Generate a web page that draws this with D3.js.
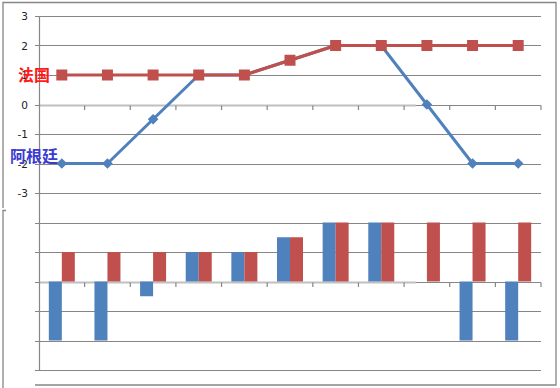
<!DOCTYPE html>
<html><head><meta charset="utf-8">
<script src="https://cdn.jsdelivr.net/npm/d3@7"></script>
<style>html,body{margin:0;padding:0;background:#fff;}svg{display:block;}</style>
</head><body>
<svg id="c" width="560" height="388"></svg>
<script>
const categories = ["1","2","3","4","5","6","7","8","9","10","11"];
const argentina = [-2, -2, -0.5, 1, 1, 1.5, 2, 2, 0, -2, -2];
const france = [1, 1, 1, 1, 1, 1.5, 2, 2, 2, 2, 2];
const topTicks = [3, 2, 1, 0, -1, -2, -3];
const bottomGrid = [2, 1, 0, -1, -2, -3];
const seriesNames = ["阿根廷", "法国"];

const svg = d3.select("#c");
const grid = "#868686";
const blue = "#4f81bd", red = "#c0504d";

const x = d3.scaleBand().domain(categories).range([39, 541]);
const yTop = d3.scaleLinear().domain([-3, 3]).range([193, 16]);
const yBot = d3.scaleLinear().domain([-3, 3]).range([370, 193]);

// outer frame pieces
const frame = svg.append("g").attr("stroke", grid).attr("fill", "none").attr("stroke-width", 1.3);
frame.append("path").attr("d", "M3,208V2.5H556V385H35");
frame.append("path").attr("d", "M6,210.5H3V388");

// gridlines
svg.append("g").selectAll("line").data(topTicks).join("line")
  .attr("x1", 35).attr("x2", 541)
  .attr("y1", d => Math.round(yTop(d)) + 0.5).attr("y2", d => Math.round(yTop(d)) + 0.5)
  .attr("stroke", grid).attr("stroke-width", 1.2);
svg.append("g").selectAll("line").data(bottomGrid).join("line")
  .attr("x1", 35).attr("x2", 541)
  .attr("y1", d => Math.round(yBot(d)) + 0.5).attr("y2", d => Math.round(yBot(d)) + 0.5)
  .attr("stroke", grid).attr("stroke-width", 1.2);

// category axis lines (light) and ticks
[[yTop, 0], [yBot, 0]].forEach(([s, v]) => {
  const yy = Math.round(s(v)) + 0.5;
  svg.append("line").attr("x1", 39).attr("x2", 416).attr("y1", yy).attr("y2", yy)
    .attr("stroke", "#c0c0c0").attr("stroke-width", 2);
  svg.append("g").selectAll("line").data(categories).join("line")
    .attr("x1", d => x(d) + x.bandwidth()).attr("x2", d => x(d) + x.bandwidth())
    .attr("y1", yy).attr("y2", yy + 4.5)
    .attr("stroke", grid).attr("stroke-width", 1.2);
});

// y axis line
svg.append("line").attr("x1", 39.5).attr("x2", 39.5).attr("y1", 16).attr("y2", 370.5)
  .attr("stroke", grid).attr("stroke-width", 1.2);

// tick labels
svg.append("g").selectAll("text").data(topTicks).join("text")
  .attr("x", 28).attr("y", d => yTop(d) + 4)
  .attr("text-anchor", "end")
  .attr("font-family", "DejaVu Sans, sans-serif").attr("font-size", 10.5).attr("fill", "#222")
  .text(d => d);

// bars (bottom panel)
const bw = 13;
const xc = d => x(d) + x.bandwidth() / 2;
const barG = svg.append("g");
barG.selectAll("rect.a").data(categories).join("rect").attr("class", "a")
  .attr("x", d => xc(d) - bw)
  .attr("width", bw)
  .attr("y", (d, i) => Math.min(yBot(argentina[i]), yBot(0)))
  .attr("height", (d, i) => Math.abs(yBot(argentina[i]) - yBot(0)))
  .attr("fill", blue);
barG.selectAll("rect.f").data(categories).join("rect").attr("class", "f")
  .attr("x", d => xc(d))
  .attr("width", bw)
  .attr("y", (d, i) => Math.min(yBot(france[i]), yBot(0)))
  .attr("height", (d, i) => Math.abs(yBot(france[i]) - yBot(0)))
  .attr("fill", red);

// lines (top panel)
const line = d3.line().x((d, i) => xc(categories[i])).y(d => yTop(d));
svg.append("path").datum(argentina).attr("d", line)
  .attr("fill", "none").attr("stroke", blue).attr("stroke-width", 3).attr("stroke-linejoin", "round");
svg.append("g").selectAll("path").data(argentina).join("path")
  .attr("d", d3.symbol().type(d3.symbolDiamond2).size(72))
  .attr("transform", (d, i) => `translate(${xc(categories[i])},${yTop(d)})`)
  .attr("fill", blue);
svg.append("path").datum(france).attr("d", line)
  .attr("fill", "none").attr("stroke", red).attr("stroke-width", 3.2).attr("stroke-linejoin", "round");
svg.append("g").selectAll("rect").data(france).join("rect")
  .attr("x", (d, i) => xc(categories[i]) - 5.5).attr("y", d => yTop(d) - 5.5)
  .attr("width", 11).attr("height", 11)
  .attr("fill", red);

// series labels
svg.append("text").attr("x", 18).attr("y", 81)
  .attr("font-family", "Noto Sans CJK SC").attr("font-weight", "bold").attr("font-size", 16)
  .attr("fill", "#ff1a1a").text(seriesNames[1]);
svg.append("text").attr("x", 10).attr("y", 162)
  .attr("font-family", "Noto Sans CJK SC").attr("font-weight", "bold").attr("font-size", 16)
  .attr("fill", "#3b3bd0").text(seriesNames[0]);
</script>
</body></html>
